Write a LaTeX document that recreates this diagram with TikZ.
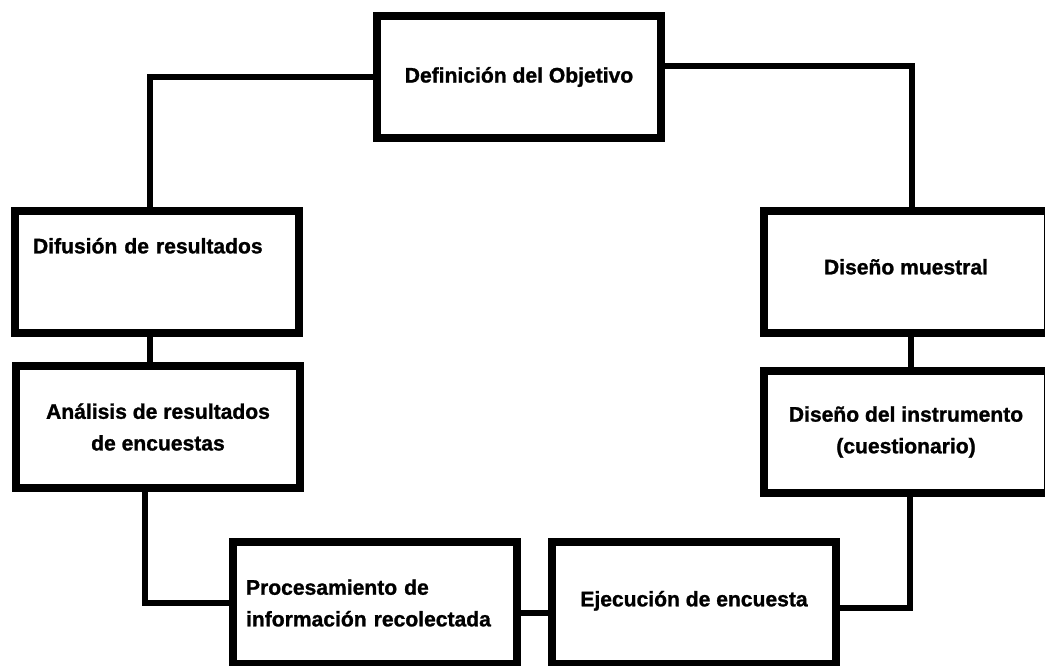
\documentclass[tikz,border=0pt]{standalone}
\usepackage{fontspec}
\setmainfont{Liberation Sans}[BoldFeatures={FakeBold=1.2}]

\tikzset{
  etapa/.style={draw, fill=white, line width=4.5pt, minimum width=5.68cm, minimum height=2.44cm, inner sep=0pt, align=center, font=\fontsize{12}{18}\selectfont\bfseries},
  enlace/.style={line width=3.4pt}
}

\begin{document}
\begin{tikzpicture}[x=0.02cm, y=-0.02cm]
\useasboundingbox (0,0) rectangle (1045,666);
\clip (0,0) rectangle (1045,666);
\node[etapa] (obj) at (519,77) {Definición del Objetivo};
\node[etapa, text width=4.96cm, align=left, text depth=30pt] (dif) at (157,272) {Difusión de resultados};
\node[etapa] (ana) at (158,427) {Análisis de resultados\\de encuestas};
\node[etapa, text depth=6pt] (mue) at (906,272) {Diseño muestral};
\node[etapa] (ins) at (906,432) {Diseño del instrumento\\(cuestionario)};
\node[etapa, text width=5.16cm, align=left] (pro) at (375,603) {Procesamiento de\\información recolectada};
\node[etapa, text depth=5pt] (eje) at (694,603) {Ejecución de encuesta};
\draw[enlace] (obj.west) -| ([xshift=-0.14cm]dif.north);
\draw[enlace] ([yshift=0.22cm]obj.east) -| ([xshift=0.12cm]mue.north);
\draw[enlace] ([xshift=0.1cm]mue.south) -- ([xshift=0.1cm]ins.north);
\draw[enlace] ([xshift=0.08cm]ins.south) |- ([yshift=-0.1cm]eje.east);
\draw[enlace] ([yshift=-0.2cm]eje.west) -- ([yshift=-0.2cm]pro.east);
\draw[enlace] (pro.west) -| ([xshift=-0.26cm]ana.south);
\draw[enlace] ([xshift=-0.14cm]dif.south) -- ([xshift=-0.14cm]dif.south |- ana.north);
\end{tikzpicture}
\end{document}
